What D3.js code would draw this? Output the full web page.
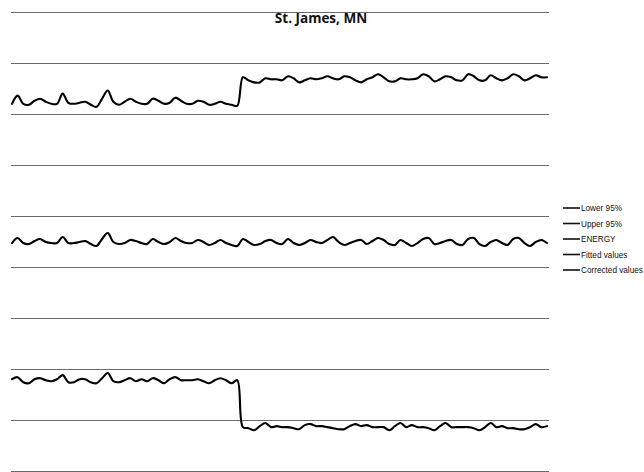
<!DOCTYPE html>
<html>
<head>
<meta charset="utf-8">
<script src="https://cdn.jsdelivr.net/npm/d3@7"></script>
<style>
  html, body { margin: 0; padding: 0; background: #fff; }
  svg { display: block; }
</style>
</head>
<body>
<svg id="chart" width="644" height="472"></svg>
<script>
// Quarterly energy readings (96 quarters), the level-corrected series and the step series
const energy = [
  360, 368, 360, 359, 363, 365, 362, 360, 360, 370, 361, 360, 361, 362, 359, 357,
  365, 373, 362, 359, 362, 365, 362, 360, 360, 365, 363, 360, 361, 366, 363, 360,
  360, 363, 362, 359, 360, 362, 360, 359, 358, 386, 383, 381, 381, 385, 384, 384,
  383, 387, 385, 381, 383, 385, 384, 385, 387, 385, 384, 387, 386, 383, 381, 384,
  386, 389, 386, 382, 382, 385, 384, 384, 385, 389, 387, 382, 384, 387, 386, 383,
  383, 389, 387, 383, 383, 388, 385, 383, 385, 389, 387, 383, 385, 388, 386, 386
];

const corrected = [
  223.5, 228.4, 223.5, 222.5, 225.5, 227.5, 224.5, 223.5, 223.5, 229.4, 223.5, 223.5,
  224.5, 225.5, 222.5, 220.6, 227.5, 233.3, 224.5, 222.5, 223.5, 226.5, 225.5, 223.5,
  222.5, 227.5, 224.5, 222.5, 224.5, 228.4, 225.5, 223.5, 223.5, 226.5, 224.5, 221.6,
  223.5, 226.5, 223.5, 221.6, 220.6, 227.5, 224.5, 221.6, 222.5, 225.5, 226.5, 223.5,
  222.5, 227.5, 223.5, 221.6, 223.5, 226.5, 224.5, 223.5, 226.5, 229.4, 224.5, 221.6,
  223.5, 225.5, 226.5, 222.5, 225.5, 228.4, 226.5, 222.5, 221.6, 226.5, 223.5, 220.6,
  223.5, 227.5, 228.4, 222.5, 223.5, 225.5, 226.5, 222.5, 221.6, 227.5, 228.4, 222.5,
  220.6, 224.5, 226.5, 223.5, 221.6, 227.5, 228.4, 223.5, 220.6, 224.5, 226.5, 223.5
];

const stepSeries = [
  90, 92, 87, 86, 90, 91, 89, 88, 90, 94, 87, 87, 90, 90, 87, 86,
  91, 96, 88, 87, 89, 91, 88, 90, 88, 91, 89, 86, 90, 92, 89, 89,
  89, 90, 88, 86, 89, 91, 89, 86, 89, 43, 42, 40, 44, 47, 43, 44,
  43, 43, 42, 41, 45, 46, 44, 44, 43, 42, 41, 41, 44, 46, 44, 45,
  43, 43, 43, 40, 44, 47, 43, 45, 43, 43, 42, 40, 44, 47, 43, 43,
  43, 43, 42, 40, 43, 47, 43, 44, 42, 42, 41, 41, 43, 46, 43, 44
];

// Horizontal grid values
const gridValues = [0, 50, 100, 150, 200, 250, 300, 350, 400, 450];

// Legend labels
const legendLabels = ["Lower 95%", "Upper 95%", "ENERGY", "Fitted values", "Corrected values"];

const svg = d3.select("#chart");

const x = d3.scaleLinear()
  .domain([0, energy.length - 1])
  .range([12, 547]);

const y = d3.scaleLinear()
  .domain([0, 450])
  .range([471, 12]);

// Grid lines
svg.append("g")
  .selectAll("line")
  .data(gridValues)
  .join("line")
  .attr("x1", 11)
  .attr("x2", 549)
  .attr("y1", d => Math.round(y(d)) + 0.5)
  .attr("y2", d => Math.round(y(d)) + 0.5)
  .attr("stroke", "#6b6b6b")
  .attr("stroke-width", 1);

// Series lines
const line = d3.line()
  .x((d, i) => x(i))
  .y(d => y(d))
  .curve(d3.curveCatmullRom.alpha(0.5));

const seriesList = [energy, corrected, stepSeries];

svg.append("g")
  .selectAll("path")
  .data(seriesList)
  .join("path")
  .attr("d", d => line(d))
  .attr("fill", "none")
  .attr("stroke", "#000")
  .attr("stroke-width", 2.1)
  .attr("stroke-linejoin", "round")
  .attr("stroke-linecap", "round");

// Title
svg.append("text")
  .attr("x", 321)
  .attr("y", 23)
  .attr("text-anchor", "middle")
  .attr("font-family", "'Open Sans', 'Liberation Sans', sans-serif")
  .attr("font-weight", "bold")
  .attr("font-size", 13.5)
  .attr("fill", "#111")
  .text("St. James, MN");

// Legend
const legend = svg.append("g")
  .attr("transform", "translate(563,208)");

const items = legend.selectAll("g")
  .data(legendLabels)
  .join("g")
  .attr("transform", (d, i) => `translate(0,${i * 15.5})`);

items.append("line")
  .attr("x1", 0)
  .attr("x2", 17)
  .attr("y1", 0)
  .attr("y2", 0)
  .attr("stroke", "#111")
  .attr("stroke-width", 1.6);

items.append("text")
  .attr("x", 18)
  .attr("y", 3)
  .attr("font-family", "'Liberation Sans', Arial, sans-serif")
  .attr("font-size", 8.2)
  .attr("fill", "#111")
  .text(d => d);
</script>
</body>
</html>
